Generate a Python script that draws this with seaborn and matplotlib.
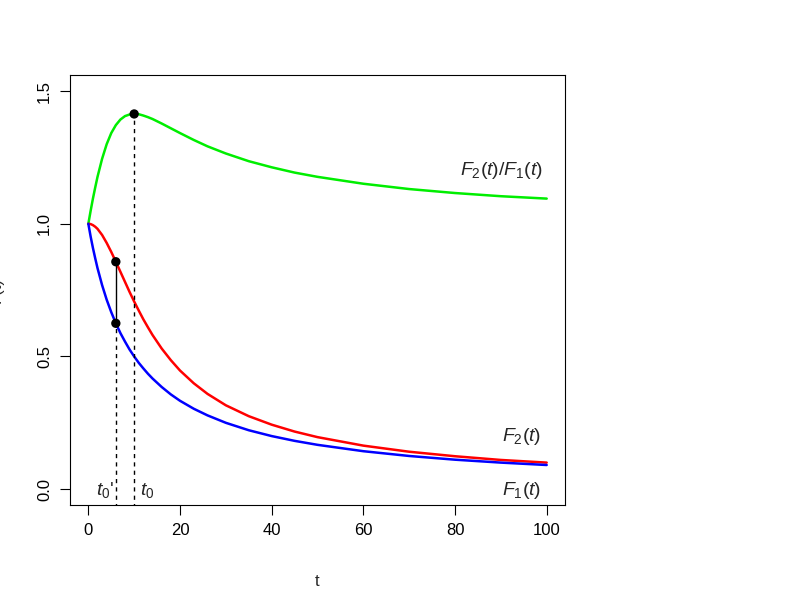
import numpy as np
import pandas as pd
import seaborn as sns
from matplotlib import pyplot as plt

# valori
t = [0, 0.5, 1, 1.5, 2, 3, 4, 5, 6, 7, 8, 9, 10, 11, 12, 13, 14, 16, 18, 20,
     23, 26, 30, 35, 40, 45, 50, 60, 70, 80, 90, 100]
F1 = [1.000, 0.952, 0.909, 0.870, 0.833, 0.769, 0.714, 0.667, 0.625, 0.588,
      0.556, 0.526, 0.500, 0.476, 0.455, 0.435, 0.417, 0.385, 0.357, 0.333,
      0.303, 0.278, 0.250, 0.222, 0.200, 0.182, 0.167, 0.143, 0.125, 0.111,
      0.100, 0.091]
F2 = [1.000, 0.999, 0.995, 0.989, 0.981, 0.958, 0.928, 0.894, 0.857, 0.819,
      0.781, 0.743, 0.707, 0.673, 0.640, 0.610, 0.581, 0.530, 0.486, 0.447,
      0.399, 0.359, 0.316, 0.275, 0.243, 0.217, 0.196, 0.164, 0.141, 0.124,
      0.110, 0.100]
ratio = [1.000, 1.049, 1.095, 1.137, 1.177, 1.245, 1.300, 1.342, 1.372, 1.393,
         1.406, 1.412, 1.414, 1.413, 1.408, 1.402, 1.395, 1.378, 1.360, 1.342,
         1.316, 1.292, 1.265, 1.236, 1.213, 1.193, 1.177, 1.151, 1.131, 1.116,
         1.104, 1.095]

t0 = 10
t0p = 6
punti_t = [t0, t0p, t0p]
punti_y = [1.414, 0.857, 0.625]

sns.set_style("ticks")
plt.rcParams['font.family'] = ['Liberation Sans', 'DejaVu Sans']
plt.rcParams['mathtext.fontset'] = 'custom'
plt.rcParams['mathtext.rm'] = 'Liberation Sans'
plt.rcParams['mathtext.it'] = 'Liberation Sans:italic'

fig = plt.figure(figsize=(8.01, 5.97), dpi=100)
ax = fig.add_axes([0.0874, 0.154, 0.618, 0.720])

sns.lineplot(x=t, y=ratio, color="#00ee00", lw=1.8, ax=ax)
sns.lineplot(x=t, y=F2, color="#ff0000", lw=1.8, ax=ax)
sns.lineplot(x=t, y=F1, color="#0000ff", lw=1.8, ax=ax)

# linee tratteggiate e segmento
ax.plot([t0, t0], [-0.1, 1.414], color="black", ls=(0, (3, 3)), lw=1)
ax.plot([t0p, t0p], [-0.1, 0.625], color="black", ls=(0, (3, 3)), lw=1)
ax.plot([t0p, t0p], [0.625, 0.857], color="black", lw=1)

sns.scatterplot(x=punti_t, y=punti_y, color="black", s=45, edgecolor="none",
                zorder=5, ax=ax)

fs = 14
ax.text(90.2, 1.20, r"$F_2(t)/F_1(t)$", ha="center", va="center", fontsize=fs)
ax.text(94.5, 0.20, r"$F_2(t)$", ha="center", va="center", fontsize=fs)
ax.text(94.5, -0.005, r"$F_1(t)$", ha="center", va="center", fontsize=fs)
ax.text(3.7, -0.005, r"$t_0$'", ha="center", va="center", fontsize=fs)
ax.text(12.9, -0.005, r"$t_0$", ha="center", va="center", fontsize=fs)

ax.set_xlim(-4, 104)
ax.set_ylim(-0.06, 1.56)
ax.set_xticks([0, 20, 40, 60, 80, 100])
ax.set_yticks([0.0, 0.5, 1.0, 1.5])
ax.set_yticklabels(["0.0", "0.5", "1.0", "1.5"], rotation=90, va="center")
ax.tick_params(labelsize=12, length=7, width=0.8, colors="black", pad=6)
for s in ax.spines.values():
    s.set_visible(True)
    s.set_linewidth(0.8)
    s.set_color("black")

ax.set_xlabel("t", fontsize=12)
ax.set_ylabel("F(t)", fontsize=12)
ax.xaxis.set_label_coords(0.5, -0.16)
ax.yaxis.set_label_coords(-0.135, 0.5)

fig.savefig("out.png", dpi=100)
